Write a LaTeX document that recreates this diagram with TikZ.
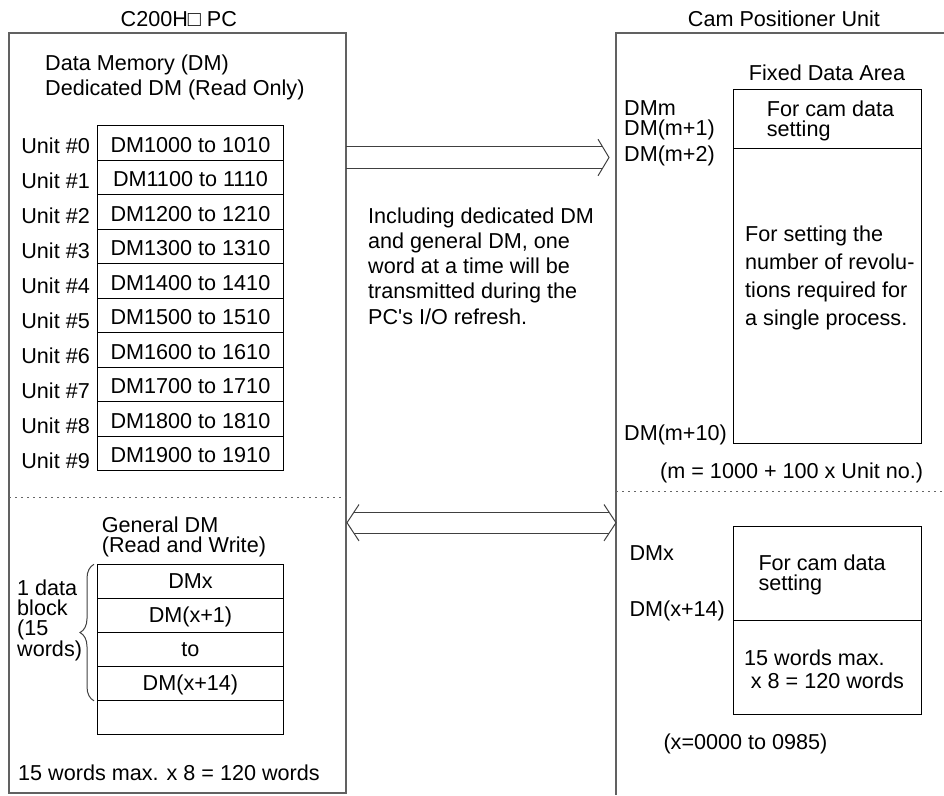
\documentclass[tikz,border=0pt]{standalone}
\usepackage{fontspec}
\setmainfont{Liberation Sans}
\newfontfamily\plainfont{Liberation Sans}
\usetikzlibrary{decorations.pathreplacing,calc}
\newcommand\myfs{\plainfont\fontsize{21.6}{25.5}\selectfont}
\tikzset{
  txt/.style={anchor=base west, inner sep=0pt, font=\myfs},
  ctxt/.style={anchor=base, inner sep=0pt, font=\myfs},
  rtxt/.style={anchor=base east, inner sep=0pt, font=\myfs},
  panel/.style={draw=black!62, line width=1.3pt},
  cell/.style={draw=black, line width=0.9pt, minimum width=186pt, minimum height=34.5pt,
    inner sep=0pt, anchor=north west, font=\myfs, text height=19.5pt, text depth=0pt},
  gcell/.style={draw=black, line width=0.9pt, minimum width=186pt, minimum height=33.9pt,
    inner sep=0pt, anchor=north west, font=\myfs, text height=14.5pt, text depth=0pt},
  areabox/.style={draw=black, line width=0.9pt, minimum width=188pt, inner sep=0pt, anchor=north west},
  sepline/.style={draw=black!60, line width=1pt, dash pattern=on 2pt off 4pt},
  arr/.style={draw=black!75, line width=1pt},
}
\begin{document}
\begin{tikzpicture}[x=1pt,y=-1pt]
\useasboundingbox (0,0) rectangle (944,795);

% panels
\coordinate (pcNW) at (9,33);
\coordinate (pcSE) at (346,793);
\draw[panel] (pcNW) rectangle (pcSE);
\coordinate (camNE) at (944,33);
\coordinate (camNW) at (616,33);
\coordinate (camSW) at (616,795);
\draw[panel] (camNE) -- (camNW) -- (camSW);

% titles
\node[ctxt] (pctitle) at (178.8,26.7) {C200H□ PC};
\node[ctxt] (camtitle) at (784,26) {Cam Positioner Unit};

% left upper
\node[txt] (dm1) at (45,70) {Data Memory (DM)};
\node[txt] (dm2) at (45,95) {Dedicated DM (Read Only)};
\foreach \k in {0,...,9}{
  \node[cell] (u\k) at (97,{125+34.5*\k}) {DM1\k00 to 1\k10};
  \node[rtxt] (ul\k) at (90,{153+35.1*\k}) {Unit \#\k};
}

% separators
\coordinate (sepL1) at (9,497.7);
\coordinate (sepL2) at (346,497.7);
\draw[sepline] (sepL1) -- (sepL2);
\coordinate (sepR1) at (616,491);
\coordinate (sepR2) at (944,491);
\draw[sepline] (sepR1) -- (sepR2);

% middle text
\node[txt] (inc0) at (368,223.3) {Including dedicated DM};
\node[txt] (inc1) at (368,248.5) {and general DM, one};
\node[txt] (inc2) at (368,273.7) {word at a time will be};
\node[txt] (inc3) at (368,298.9) {transmitted during the};
\node[txt] (inc4) at (368,324.1) {PC's I/O refresh.};

% single arrow
\coordinate (a1s) at (346,157.5);
\coordinate (a1t) at (609,157.5);
\draw[arr] (a1s) ++(0,-10.8) -- ++(256.6,0);
\draw[arr] (a1s) ++(0,10.8) -- ++(256.6,0);
\draw[arr] (a1t) ++(-11,-18.3) -- (a1t) -- ++(-11,18.3);

% double arrow
\coordinate (a2l) at (347,522.7);
\coordinate (a2r) at (616,522.7);
\draw[arr] (a2l) ++(7,-10.4) -- ++(255,0);
\draw[arr] (a2l) ++(7,10.4) -- ++(255,0);
\draw[arr] (a2l) ++(12,-18.2) -- (a2l) -- ++(12,18.2);
\draw[arr] (a2r) ++(-12,-18.2) -- (a2r) -- ++(-12,18.2);

% left lower
\node[txt] (gen1) at (101.7,532.7) {General DM};
\node[txt] (gen2) at (101.7,552.7) {(Read and Write)};
\node[gcell] (g0) at (97,564.3) {DMx};
\node[gcell] (g1) at (97,598.2) {DM(x+1)};
\node[gcell] (g2) at (97,632.1) {to};
\node[gcell] (g3) at (97,666.0) {DM(x+14)};
\node[gcell] (g4) at (97,699.9) {};
\coordinate (brB) at ($(g3.south west)+(-3,0)$);
\coordinate (brT) at ($(g0.north west)+(-3,0)$);
\draw[arr, decorate, decoration={brace, amplitude=14pt}] (brB) -- (brT);
\node[txt] (blk0) at (17,595) {1 data};
\node[txt] (blk1) at (17,615.4) {block};
\node[txt] (blk2) at (17,635.8) {(15};
\node[txt] (blk3) at (17,656.2) {words)};
\node[ctxt] (leftfoot) at (169,780) {15 words max. x 8 = 120 words};

% right upper
\node[ctxt] (fixtitle) at (827,80) {Fixed Data Area};
\node[areabox, minimum height=59pt] (fixA) at (733,89.3) {};
\node[areabox, minimum height=294.4pt] (fixB) at (733,148.3) {};
\node[txt] (dmm0) at (624,115) {DMm};
\node[txt] (dmm1) at (624,135) {DM(m+1)};
\node[txt] (dmm2) at (624,161.7) {DM(m+2)};
\node[txt] (dmm10) at (624,440) {DM(m+10)};
\node[txt] (fa1) at (766.7,116.7) {For cam data};
\node[txt] (fa2) at (766.7,136.7) {setting};
\node[txt] (fs0) at (745,241.7) {For setting the};
\node[txt] (fs1) at (745,269.6) {number of revolu-};
\node[txt] (fs2) at (745,297.5) {tions required for};
\node[txt] (fs3) at (745,325.4) {a single process.};
\node[txt] (mdef) at (660,478.3) {(m = 1000 + 100 x Unit no.)};

% right lower
\node[areabox, minimum height=94pt] (camA) at (733,526) {};
\node[areabox, minimum height=94pt] (camB) at (733,620) {};
\node[txt] (dmx0) at (629.3,560) {DMx};
\node[txt] (dmx14) at (629.3,616) {DM(x+14)};
\node[txt] (ca1) at (758.3,570) {For cam data};
\node[txt] (ca2) at (758.3,590) {setting};
\node[txt] (cb1) at (744,665) {15 words max.};
\node[txt] (cb2) at (750.7,688.3) {x 8 = 120 words};
\node[txt] (xdef) at (663.3,749.3) {(x=0000 to 0985)};
\end{tikzpicture}
\end{document}
